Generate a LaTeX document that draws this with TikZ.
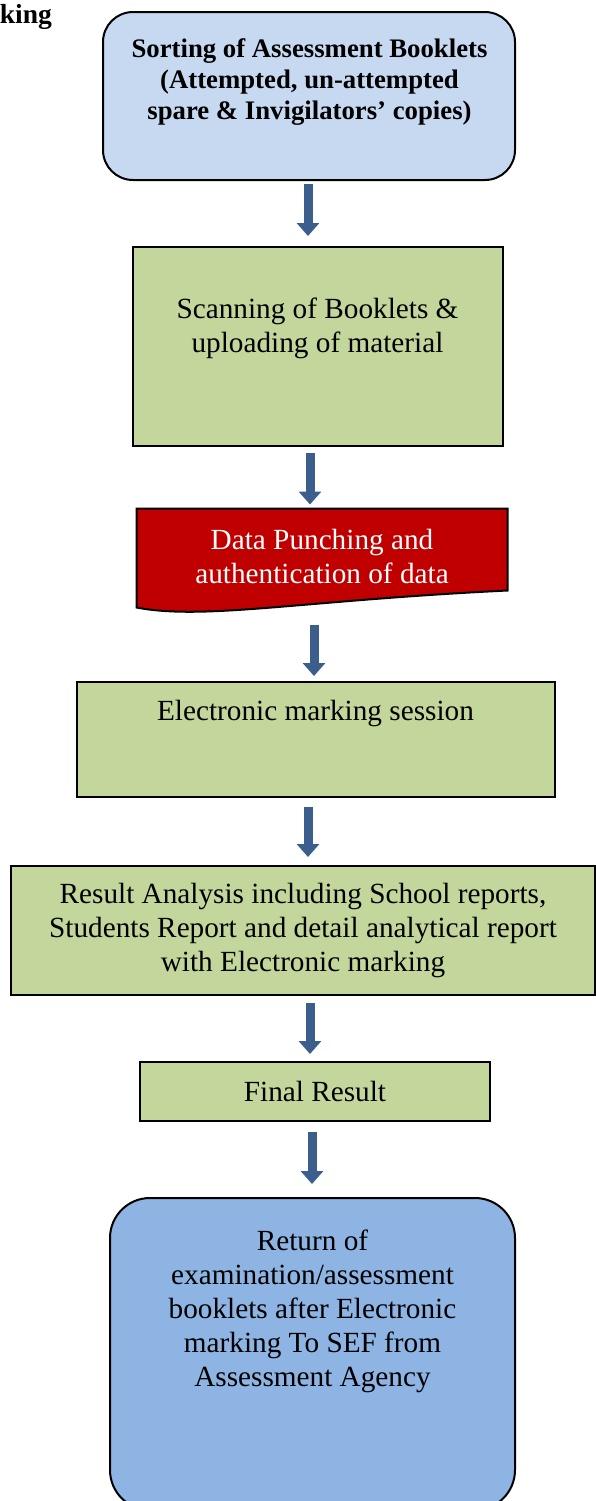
\documentclass[tikz,border=0pt]{standalone}
\usepackage{fontspec}
\setmainfont{Liberation Serif}
\usetikzlibrary{arrows.meta,backgrounds}

\definecolor{sortblue}{HTML}{C6D9F1}
\definecolor{stepgreen}{HTML}{C3D69B}
\definecolor{punchred}{HTML}{C00000}
\definecolor{returnblue}{HTML}{8EB4E3}
\definecolor{arrowblue}{HTML}{3B5E8C}

\tikzset{
    boldtext/.style={font=\bfseries\fontsize{10.7}{12.4}\selectfont, align=center},
    plaintext/.style={font=\fontsize{11.7}{13.6}\selectfont, align=center},
    greenbox/.style={draw=black, line width=0.8pt, fill=stepgreen, inner sep=0pt},
    flow/.style={draw=arrowblue, line width=3.6pt, -{Triangle[width=8.8pt,length=5.2pt]}}
}

\begin{document}
\begin{tikzpicture}[x=1pt, y=1pt]
            \useasboundingbox (0,0) rectangle (238.4,-600.4);

            % Define the boxes
            \node[font=\bfseries\fontsize{11}{13}\selectfont, anchor=base west] (title) at (-3.6,-9.2) {king};

            \node[draw=black, line width=0.8pt, fill=sortblue, rounded corners=12pt,
                  minimum width=164.8pt, minimum height=67.2pt] (sort) at (123.6,-38.4) {};
            \node[boldtext] (sortText) at (123.8,-32.8)
                {Sorting of Assessment Booklets\\(Attempted, un-attempted\\spare \& Invigilators’ copies)};

            \node[greenbox, minimum width=148pt, minimum height=79.6pt] (scan) at (127.2,-138.6) {};
            \node[plaintext] (scanText) at (127,-131.2) {Scanning of Booklets \&\\uploading of material};

            \node[plaintext, text=white, minimum width=148pt, minimum height=39.2pt] (punch) at (128.8,-223.2)
                {\raisebox{1.2pt}{Data Punching and}\\\raisebox{1.2pt}{authentication of data}};

            \node[greenbox, minimum width=191.2pt, minimum height=46pt] (mark) at (126.4,-295.8) {};
            \node[plaintext] (markText) at (126.2,-285.2) {Electronic marking session};

            \node[greenbox, plaintext, minimum width=233.6pt, minimum height=51.6pt] (result) at (121.2,-372.2)
                {Result Analysis including School reports,\\Students Report and detail analytical report\\with Electronic marking};

            \node[greenbox, plaintext, minimum width=140pt, minimum height=23.6pt] (final) at (126,-436.6) {Final Result};

            \node[draw=black, line width=0.8pt, fill=returnblue, rounded corners=16pt,
                  minimum width=162pt, minimum height=124.8pt] (ret) at (125,-541.6) {};
            \node[plaintext] (retText) at (125,-524.6)
                {Return of\\examination/assessment\\booklets after Electronic\\marking To SEF from\\Assessment Agency};

            % Document shape behind the red text
            \begin{scope}[on background layer]
                \draw[line width=0.8pt, fill=punchred] (punch.north west) -- (punch.north east)
                    -- ([yshift=6.8pt]punch.south east)
                    .. controls ([xshift=-82.8pt,yshift=2.8pt]punch.south east)
                    and ([xshift=27.2pt,yshift=-5.2pt]punch.south west) .. (punch.south west) -- cycle;
            \end{scope}

            % Draw arrows
            \draw[flow, shorten <=1.2pt, shorten >=4pt] (sort.south -| 123.2,0) -- (scan.north -| 123.2,0);
            \draw[flow, shorten <=2.4pt, shorten >=1.6pt] (scan.south -| 124,0) -- (punch.north -| 124,0);
            \draw[flow, shorten <=6.8pt, shorten >=2pt] (punch.south -| 125.6,0) -- (mark.north -| 125.6,0);
            \draw[flow, shorten <=3.6pt, shorten >=3.2pt] (mark.south -| 123.2,0) -- (result.north -| 123.2,0);
            \draw[flow, shorten <=2.8pt, shorten >=2.8pt] (result.south -| 124,0) -- (final.north -| 124,0);
            \draw[flow, shorten <=4pt, shorten >=5.2pt] (final.south -| 124.8,0) -- (ret.north -| 124.8,0);
        \end{tikzpicture}
\end{document}
